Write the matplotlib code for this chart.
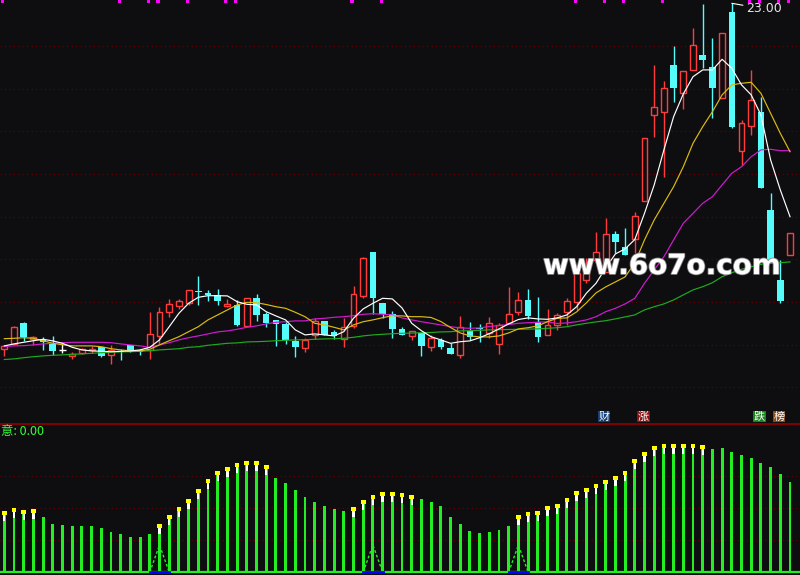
import numpy as np
import matplotlib.pyplot as plt
from matplotlib import patheffects

# daily candles
opens = [5.70, 5.97, 7.02, 6.22, 6.17, 5.97, 5.67, 5.37, 5.50, 5.65,
         5.80, 5.43, 5.62, 5.90, 5.67, 5.67, 6.38, 7.55, 7.85, 8.03,
         8.63, 8.52, 8.40, 7.87, 7.90, 6.88, 8.27, 7.47, 7.15, 6.97,
         6.13, 5.78, 6.42, 7.12, 6.55, 6.22, 6.88, 8.38, 10.57, 8.00,
         7.47, 6.72, 6.38, 6.53, 5.83, 6.17, 5.78, 5.43, 6.63, 6.78,
         6.50, 5.95, 7.03, 7.55, 8.17, 7.08, 6.42, 6.92, 7.55, 8.08,
         9.17, 10.17, 9.58, 11.47, 10.83, 11.20, 13.13, 17.40, 17.55, 19.92,
         18.50, 19.65, 20.42, 19.82, 18.28, 22.55, 15.63, 16.88, 17.57, 12.67,
         9.17, 10.43]
highs = [5.92, 6.87, 7.05, 6.37, 6.33, 6.37, 5.97, 5.58, 5.78, 5.87,
         5.84, 5.90, 5.70, 5.92, 5.73, 7.57, 7.83, 8.22, 8.20, 8.68,
         9.37, 8.67, 8.72, 8.20, 8.15, 8.25, 8.47, 7.55, 7.17, 7.08,
         6.37, 6.28, 7.25, 7.12, 6.65, 7.28, 8.87, 10.32, 10.57, 8.00,
         7.62, 6.80, 6.62, 6.53, 6.42, 6.25, 6.00, 7.37, 7.07, 6.95,
         7.32, 7.00, 8.83, 8.58, 8.72, 8.33, 7.70, 7.50, 8.25, 9.50,
         10.25, 11.58, 12.25, 11.63, 11.75, 12.58, 16.25, 19.92, 19.12, 20.87,
         19.63, 21.75, 22.97, 21.25, 21.50, 23.00, 17.17, 19.67, 18.33, 13.53,
         10.17, 11.50]
lows = [5.38, 5.97, 6.13, 5.92, 5.67, 5.42, 5.53, 5.20, 5.47, 5.50,
        5.34, 4.97, 5.17, 5.58, 5.42, 5.22, 5.97, 7.30, 7.72, 7.92,
        7.92, 8.13, 7.93, 7.80, 6.88, 6.88, 7.12, 6.83, 5.88, 5.98,
        5.32, 5.55, 6.22, 6.42, 6.20, 5.83, 6.78, 8.25, 7.47, 7.28,
        6.25, 6.43, 6.17, 5.37, 5.62, 5.72, 5.48, 5.28, 6.17, 6.08,
        6.25, 5.48, 7.00, 7.40, 7.20, 6.08, 6.42, 6.67, 6.92, 7.67,
        9.00, 10.00, 9.58, 10.50, 10.42, 10.53, 13.13, 16.33, 14.33, 18.08,
        17.70, 19.65, 19.75, 17.25, 18.28, 16.75, 14.92, 16.42, 13.78, 10.07,
        8.03, 10.43]
closes = [5.85, 6.80, 6.33, 6.33, 6.07, 5.63, 5.67, 5.45, 5.72, 5.73,
          5.37, 5.67, 5.57, 5.58, 5.57, 6.47, 7.57, 7.95, 8.10, 8.65,
          8.57, 8.40, 8.12, 7.98, 6.92, 8.25, 7.43, 7.00, 6.97, 6.17,
          5.83, 6.17, 7.10, 6.42, 6.37, 6.80, 8.45, 10.25, 8.28, 7.45,
          6.73, 6.43, 6.62, 5.87, 6.25, 5.83, 5.48, 6.80, 6.32, 6.72,
          7.00, 6.92, 7.47, 8.15, 7.37, 6.33, 6.92, 7.42, 8.12, 9.50,
          9.87, 10.58, 11.45, 11.08, 10.42, 12.38, 16.25, 17.80, 18.75, 18.78,
          19.63, 20.90, 20.17, 18.78, 21.50, 16.83, 17.00, 18.17, 13.78, 10.07,
          8.13, 11.50]

# moving averages as drawn
ma5 = [5.87, 5.97, 6.05, 6.13, 6.20, 6.12, 6.00, 5.80, 5.67, 5.62,
       5.60, 5.58, 5.60, 5.62, 5.67, 5.80, 6.17, 6.83, 7.50, 8.00,
       8.30, 8.38, 8.38, 8.37, 8.08, 7.95, 7.92, 7.58, 7.37, 7.17,
       6.67, 6.42, 6.47, 6.42, 6.37, 6.58, 7.25, 7.72, 8.00, 8.25,
       8.22, 7.77, 7.00, 6.63, 6.33, 6.17, 6.00, 6.08, 6.12, 6.28,
       6.48, 6.72, 6.97, 7.19, 7.27, 7.22, 7.20, 7.27, 7.42, 7.83,
       8.50, 9.00, 9.77, 10.47, 10.72, 11.19, 12.50, 13.92, 15.67, 17.33,
       18.47, 19.33, 19.67, 19.67, 20.20, 19.75, 18.92, 18.42, 17.42, 15.17,
       13.67, 12.33]
ma10 = [6.23, 6.25, 6.28, 6.25, 6.13, 6.00, 5.93, 5.87, 5.87, 5.87,
        5.83, 5.73, 5.67, 5.62, 5.62, 5.70, 5.92, 6.13, 6.33, 6.58,
        6.83, 7.17, 7.42, 7.67, 7.92, 8.05, 8.03, 7.94, 7.83, 7.75,
        7.55, 7.33, 7.00, 6.92, 6.80, 6.67, 6.92, 7.08, 7.17, 7.28,
        7.38, 7.37, 7.33, 7.33, 7.29, 7.09, 6.79, 6.52, 6.37, 6.32,
        6.32, 6.37, 6.52, 6.72, 6.78, 6.87, 7.08, 7.25, 7.27, 7.57,
        8.02, 8.52, 8.82, 9.07, 9.32, 10.02, 11.17, 12.17, 13.00, 13.83,
        14.83, 16.00, 16.83, 17.58, 18.42, 18.92, 19.00, 19.05, 18.50, 17.50,
        16.50, 15.58]
ma20 = [5.84, 5.87, 5.88, 5.92, 5.97, 6.00, 6.03, 6.05, 6.05, 6.05,
        6.05, 6.03, 5.97, 5.92, 5.87, 5.80, 5.92, 6.03, 6.17, 6.28,
        6.37, 6.47, 6.57, 6.62, 6.70, 6.80, 6.87, 6.97, 7.05, 7.08,
        7.12, 7.12, 7.22, 7.25, 7.30, 7.33, 7.38, 7.45, 7.48, 7.45,
        7.42, 7.27, 7.17, 7.08, 7.00, 6.92, 6.83, 6.77, 6.75, 6.77,
        6.84, 6.89, 6.94, 7.00, 7.03, 7.05, 7.08, 6.99, 7.02, 7.08,
        7.17, 7.33, 7.58, 7.75, 7.97, 8.25, 9.00, 9.67, 10.33, 11.17,
        12.00, 12.50, 13.00, 13.33, 13.92, 14.50, 14.83, 15.33, 15.67, 15.70,
        15.63, 15.63]
ma60 = [5.19, 5.22, 5.28, 5.33, 5.37, 5.40, 5.42, 5.45, 5.47, 5.50,
        5.53, 5.55, 5.57, 5.58, 5.60, 5.63, 5.67, 5.70, 5.73, 5.80,
        5.83, 5.90, 5.95, 6.00, 6.02, 6.07, 6.08, 6.10, 6.13, 6.15,
        6.17, 6.18, 6.20, 6.22, 6.23, 6.25, 6.30, 6.37, 6.42, 6.45,
        6.48, 6.50, 6.51, 6.53, 6.54, 6.57, 6.58, 6.62, 6.63, 6.65,
        6.67, 6.68, 6.69, 6.70, 6.71, 6.72, 6.75, 6.78, 6.83, 6.92,
        7.00, 7.07, 7.13, 7.22, 7.32, 7.42, 7.67, 7.83, 7.97, 8.17,
        8.42, 8.67, 8.83, 9.03, 9.33, 9.53, 9.70, 9.83, 9.95, 10.00,
        10.03, 10.07]

# lower indicator (0-100)
ind = [47.7, 49.8, 48.4, 49.2, 43.0, 37.5, 36.7, 35.9, 35.9, 35.9,
       34.4, 31.3, 29.7, 27.3, 27.3, 29.7, 37.5, 44.5, 50.5, 57.0,
       64.8, 72.7, 78.9, 82.0, 85.2, 86.7, 86.7, 83.6, 73.4, 69.5,
       64.1, 58.6, 54.7, 51.6, 49.2, 47.7, 50.8, 56.3, 60.2, 62.5,
       62.5, 61.7, 60.2, 57.0, 54.9, 51.6, 43.0, 37.5, 32.0, 30.5,
       31.3, 32.8, 35.9, 44.5, 46.9, 47.7, 51.6, 53.1, 57.8, 63.3,
       65.6, 68.8, 71.9, 75.0, 78.9, 88.3, 93.8, 98.4, 99.6, 100.0,
       100.0, 100.0, 99.2, 95.9, 96.6, 93.8, 91.4, 89.1, 85.2, 82.0,
       76.6, 70.3]
cap_days = [0, 1, 2, 3] + list(range(16, 28)) + list(range(36, 43)) + list(range(53, 73))
signal_days = [16, 38, 53]
mark_days = [0, 12, 15, 16, 19, 23, 24, 36, 39, 59, 62, 64, 68, 77, 78, 80, 81]
ind_value = '0.00'
tags = ['财', '涨', '跌', '榜']
tag_colors = ['#123f78', '#8a1212', '#15861a', '#8c4a12']

bg = '#0e0e11'
red = '#ff3c3c'
cyan = '#54fcfc'
cjk = ['Noto Sans CJK SC', 'DejaVu Sans']

fig = plt.figure(figsize=(8, 5.75), dpi=100, facecolor=bg)
ax = fig.add_axes([0, 151 / 575, 1, 424 / 575], facecolor=bg)
ax2 = fig.add_axes([0, 0, 1, 151 / 575], facecolor=bg)

x = np.arange(len(closes))
o = np.array(opens)
h = np.array(highs)
l = np.array(lows)
c = np.array(closes)
up = c > o
dn = c < o
flat = c == o

ytop, ybot = 23.165, 1.965
ax.set_xlim(-0.443, 82.03)
ax.set_ylim(ybot, ytop)

# dotted guide lines
ax.set_yticks(ytop - (46 + 42.67 * np.arange(9)) / 20)
ax.grid(axis='y', color='#6a0000', linestyle=(0, (1, 3)), linewidth=0.8)
ax.set_axisbelow(True)

# falling candles: filled cyan
ax.vlines(x[dn], l[dn], h[dn], color=cyan, lw=1)
ax.bar(x[dn], o[dn] - c[dn], bottom=c[dn], width=0.68, color=cyan, zorder=3)
# rising candles: hollow red
ax.vlines(x[up], c[up], h[up], color=red, lw=1, zorder=3)
ax.vlines(x[up], l[up], o[up], color=red, lw=1, zorder=3)
ax.bar(x[up], c[up] - o[up], bottom=o[up], width=0.6, facecolor=bg,
       edgecolor=red, lw=1, zorder=3)
# doji
ax.vlines(x[flat], l[flat], h[flat], color='white', lw=1, zorder=3)
ax.hlines(o[flat], x[flat] - 0.35, x[flat] + 0.35, color='white', lw=1, zorder=3)

ax.plot(x, ma60, color='#1faa1f', lw=0.85, zorder=4)
ax.plot(x, ma20, color='#d21ad2', lw=0.85, zorder=4)
ax.plot(x, ma10, color='#dcbc10', lw=0.85, zorder=4)
ax.plot(x, ma5, color='white', lw=0.85, zorder=4)

# magenta ticks along the top
ax.bar(np.array(mark_days) - 0.15, 0.16, bottom=ytop - 0.16, width=0.32,
       color='#ff00ff', zorder=5)

# high marker
imax = int(np.argmax(h))
ax.annotate(f'{h[imax]:.2f}', xy=(x[imax], h[imax]), xytext=(10, -4),
            textcoords='offset points', color='#e6e6e6', fontsize=9, va='center',
            arrowprops=dict(arrowstyle='-', color='white', lw=0.8,
                            shrinkA=0, shrinkB=0))

for s in ax.spines.values():
    s.set_visible(False)
ax.tick_params(left=False, bottom=False, labelleft=False, labelbottom=False)
ax.set_xticks([])

# watermark
fig.text(0.8275, 1 - 266 / 575, 'www.6o7o.com', color='white', fontsize=20,
         fontweight='bold', ha='center', va='center', zorder=10,
         path_effects=[patheffects.withStroke(linewidth=1.2, foreground='#8a8a8a')])

# tags above the separator
for t, col, px in zip(tags, tag_colors, [604, 643.5, 759.3, 779]):
    fig.text(px / 800, 1 - 416.5 / 575, t, color='white', fontsize=8,
             family=cjk, ha='center', va='center',
             bbox=dict(boxstyle='square,pad=0.08', facecolor=col, edgecolor='none'))

# lower panel
ax2.set_xlim(-0.443, 82.03)
ax2.set_ylim(-2.34, 115.6)
ax2.set_yticks([25, 50, 75])
ax2.grid(axis='y', color='#6a0000', linestyle=(0, (1, 3)), linewidth=0.8)
ax2.set_axisbelow(True)
v = np.array(ind)
ax2.bar(x, v, width=0.3, color='#22ee22', zorder=3)
cd = np.array(cap_days)
ax2.bar(cd, 6 / 1.28, bottom=v[cd] - 10 / 1.28, width=0.24, color='white', zorder=4)
ax2.bar(cd, 4 / 1.28, bottom=v[cd] - 4 / 1.28, width=0.48, color='#ffff00', zorder=4)
ax2.axhline(0, color='#22ee22', lw=1.6, zorder=3)
for d in signal_days:
    ax2.plot([d - 1, d, d + 1], [0, 21, 0], color='#22ee22', lw=1,
             linestyle=(0, (2, 1.5)), zorder=5)
    ax2.plot([d - 1, d + 1], [0, 0], color='#0000ff', lw=2, zorder=6)

for k, s in ax2.spines.items():
    s.set_visible(k == 'top')
ax2.spines['top'].set_color('#8b0000')
ax2.spines['top'].set_linewidth(1.3)
ax2.tick_params(left=False, bottom=False, labelleft=False, labelbottom=False)
ax2.set_xticks([])

# indicator title
fig.text(1 / 800, 1 - 432 / 575, f'意: {ind_value}', color='#33ff33', fontsize=9,
         family=cjk, ha='left', va='center')

fig.savefig('out.png', dpi=100, facecolor=bg)
